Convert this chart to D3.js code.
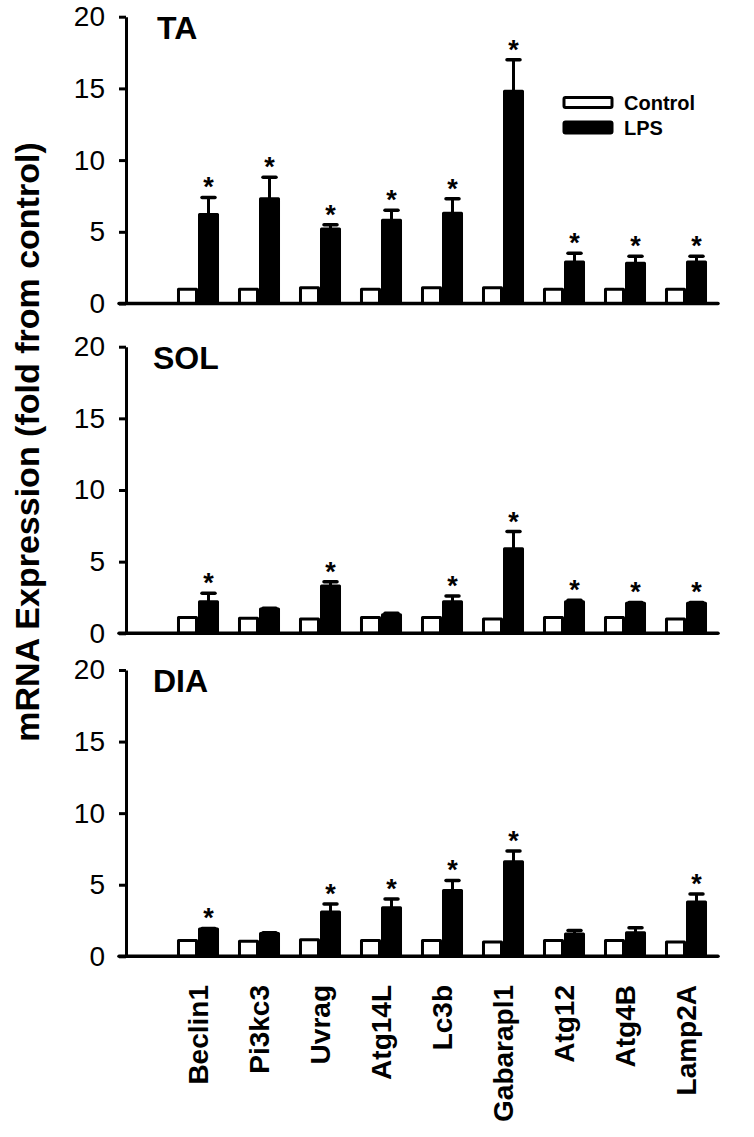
<!DOCTYPE html>
<html>
<head>
<meta charset="utf-8">
<script src="https://cdn.jsdelivr.net/npm/d3@7"></script>
<style>
  html, body { margin: 0; padding: 0; background: #fff; }
  svg { display: block; font-family: "Liberation Sans", Arial, sans-serif; }
</style>
</head>
<body>
<svg id="chart" width="754" height="1137"></svg>
<script>
const genes = ["Beclin1","Pi3kc3","Uvrag","Atg14L","Lc3b","Gabarapl1","Atg12","Atg4B","Lamp2A"];
const series = ["Control","LPS"];
const yTicks = [0,5,10,15,20];

const panelNames = ["TA","SOL","DIA"];

const taControl = [1.0,1.0,1.1,1.0,1.1,1.1,1.0,1.0,1.0];
const taLPS     = [6.2,7.3,5.2,5.8,6.3,14.8,2.9,2.8,2.9];
const taErr     = [1.2,1.5,0.3,0.7,1.0,2.2,0.6,0.5,0.4];
const taSig     = [1,1,1,1,1,1,1,1,1];

const solControl = [1.1,1.05,1.0,1.1,1.1,1.0,1.1,1.1,1.0];
const solLPS     = [2.2,1.7,3.3,1.3,2.2,5.9,2.2,2.1,2.1];
const solErr     = [0.6,0.05,0.3,0.1,0.4,1.2,0.1,0.05,0.05];
const solSig     = [1,0,1,0,1,1,1,1,1];

const diaControl = [1.1,1.05,1.15,1.1,1.1,1.0,1.1,1.1,1.0];
const diaLPS     = [1.9,1.6,3.1,3.4,4.6,6.6,1.55,1.65,3.8];
const diaErr     = [0.05,0.05,0.55,0.6,0.7,0.75,0.25,0.35,0.55];
const diaSig     = [1,0,1,1,1,1,0,0,1];

const panels = [
  {name: panelNames[0], control: taControl, lps: taLPS, err: taErr, sig: taSig, top: 16.7, bottom: 303.5},
  {name: panelNames[1], control: solControl, lps: solLPS, err: solErr, sig: solSig, top: 346.7, bottom: 633.3},
  {name: panelNames[2], control: diaControl, lps: diaLPS, err: diaErr, sig: diaSig, top: 670, bottom: 956.3}
];

const svg = d3.select("#chart");
const axisX = 126;

const x0 = d3.scaleBand().domain(genes).range([167.5, 716.5]).paddingInner(0.311).paddingOuter(0.1555);
const x1 = d3.scaleBand().domain(series).range([0, x0.bandwidth()]);

panels.forEach((p, pi) => {
  const y = d3.scaleLinear().domain([0, 20]).range([p.bottom, p.top]);
  const g = svg.append("g");

  // bars
  genes.forEach((gene, i) => {
    const vals = [p.control[i], p.lps[i]];
    series.forEach((s, si) => {
      const v = vals[si];
      g.append("rect")
        .attr("x", x0(gene) + x1(s) + 1.5)
        .attr("y", y(v))
        .attr("width", x1.bandwidth() - 3)
        .attr("height", y(0) - y(v))
        .attr("fill", si === 0 ? "#fff" : "#000")
        .attr("stroke", "#000")
        .attr("stroke-width", 3)
        .attr("stroke-linejoin", "round");
    });
    // error bar on LPS
    const cx = x0(gene) + x1("LPS") + x1.bandwidth() / 2;
    const errTop = y(p.lps[i] + p.err[i]);
    g.append("line")
      .attr("x1", cx).attr("x2", cx)
      .attr("y1", y(p.lps[i])).attr("y2", errTop)
      .attr("stroke", "#000").attr("stroke-width", 3);
    g.append("line")
      .attr("x1", cx - 6.5).attr("x2", cx + 6.5)
      .attr("y1", errTop).attr("y2", errTop)
      .attr("stroke", "#000").attr("stroke-width", 3.5)
      .attr("stroke-linecap", "round");
    if (p.sig[i]) {
      g.append("text")
        .attr("x", cx)
        .attr("y", errTop - 1)
        .attr("text-anchor", "middle")
        .attr("font-size", 27)
        .attr("font-weight", "bold")
        .text("*");
    }
  });

  // baseline
  g.append("line")
    .attr("x1", axisX - 7).attr("x2", 718)
    .attr("y1", y(0)).attr("y2", y(0))
    .attr("stroke", "#000").attr("stroke-width", 3.5)
    .attr("stroke-linecap", "round");

  // y axis
  const ax = g.append("g")
    .attr("transform", `translate(${axisX},0)`)
    .call(d3.axisLeft(y).tickValues(yTicks).tickSize(7).tickSizeOuter(0).tickPadding(14));
  ax.select(".domain").attr("stroke-width", 3);
  ax.selectAll(".tick line").attr("stroke-width", 3);
  ax.selectAll(".tick text")
    .attr("font-size", 28)
    .attr("font-family", "Liberation Sans, Arial, sans-serif")
    .attr("fill", "#000");

  // panel label
  g.append("text")
    .attr("x", p.name === "TA" ? 157 : 153)
    .attr("y", y(20) + 22)
    .attr("font-size", 32)
    .attr("font-weight", "bold")
    .text(p.name);

  // x labels on last panel
  if (pi === panels.length - 1) {
    genes.forEach(gene => {
      const cx = x0(gene) + x0.bandwidth() / 2;
      g.append("text")
        .attr("transform", `translate(${cx + 10},985) rotate(-90)`)
        .attr("text-anchor", "end")
        .attr("font-size", 28)
        .attr("font-weight", "bold")
        .text(gene);
    });
  }
});

// legend
const legend = svg.append("g");
series.forEach((s, i) => {
  const ly = [97.5, 122][i];
  legend.append("rect")
    .attr("x", 564).attr("y", ly)
    .attr("width", 48).attr("height", i === 0 ? 10 : 11)
    .attr("fill", i === 0 ? "#fff" : "#000")
    .attr("stroke", "#000").attr("stroke-width", 3)
    .attr("rx", 1.5);
  legend.append("text")
    .attr("x", 624).attr("y", [109.5, 134.5][i])
    .attr("font-size", 20)
    .attr("font-weight", "bold")
    .text(s);
});

// y axis title
svg.append("text")
  .attr("transform", "translate(39,442) rotate(-90)")
  .attr("text-anchor", "middle")
  .attr("font-size", 34)
  .attr("font-weight", "bold")
  .text("mRNA Expression (fold from control)");
</script>
</body>
</html>
